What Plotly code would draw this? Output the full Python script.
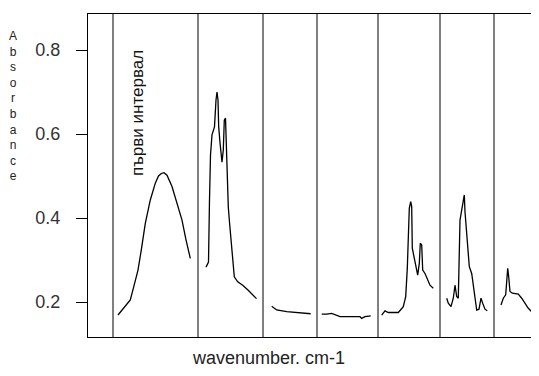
import plotly.graph_objects as go

# x: position along the (unlabelled) wavenumber axis, arbitrary units; y: absorbance
interval_bounds = [25, 110, 175, 229, 290, 352, 406]

seg1_x = [30, 33.5, 37.3, 42.3, 45.7, 50, 53.3, 57.3, 62.3, 67.3, 70.5, 73.3, 76, 79, 84, 89, 94, 98, 102.3]
seg1_y = [0.169, 0.180, 0.189, 0.205, 0.236, 0.276, 0.324, 0.387, 0.443, 0.483, 0.500, 0.506, 0.508, 0.502, 0.475, 0.435, 0.395, 0.348, 0.304]

seg2_x = [118, 120.5, 121.5, 122.5, 124, 126.5, 128, 129, 130, 130.7, 132, 134, 135.3, 136.3, 137.5,
          138.5, 140.3, 141.5, 143, 144, 146.3, 149.7, 154.7, 159.7, 164.7, 168.5]
seg2_y = [0.283, 0.295, 0.443, 0.550, 0.598, 0.617, 0.681, 0.700, 0.681, 0.617, 0.579, 0.533, 0.562, 0.633, 0.638,
          0.538, 0.426, 0.390, 0.348, 0.307, 0.260, 0.248, 0.240, 0.229, 0.217, 0.208]

seg3_x = [183.7, 188.7, 198.7, 212, 222.7]
seg3_y = [0.190, 0.181, 0.177, 0.175, 0.172]

seg4_x = [233.7, 238.7, 243.7, 248.7, 252, 272, 273.7, 277, 282.7]
seg4_y = [0.171, 0.171, 0.173, 0.169, 0.165, 0.165, 0.161, 0.165, 0.167]

seg5_x = [293.7, 297, 300.3, 310.3, 315.3, 317.7, 319.3, 321.3, 322.7, 323.7, 324.3, 327, 329.7, 331.3,
          332.3, 333.7, 334.7, 337, 339.7, 342, 345.3]
seg5_y = [0.169, 0.179, 0.175, 0.175, 0.189, 0.213, 0.280, 0.423, 0.439, 0.427, 0.328, 0.292, 0.264, 0.292,
          0.340, 0.336, 0.276, 0.268, 0.252, 0.240, 0.233]

seg6_x = [358.7, 360.3, 363, 365.3, 367, 368.7, 370.3, 371, 372, 373.7, 375.3, 376.3, 377, 378.7, 381.3,
          383.7, 386, 388.7, 391, 393, 394.7, 397, 399.3]
seg6_y = [0.209, 0.197, 0.189, 0.209, 0.240, 0.213, 0.209, 0.308, 0.395, 0.419, 0.447, 0.455, 0.415, 0.364, 0.284,
          0.268, 0.221, 0.181, 0.183, 0.209, 0.197, 0.183, 0.179]

seg7_x = [413, 415.3, 417.7, 418.7, 419.7, 420.7, 422, 424.3, 430.3, 433.7, 437, 440.3, 443.7, 447, 449.3]
seg7_y = [0.193, 0.209, 0.217, 0.252, 0.280, 0.260, 0.225, 0.221, 0.219, 0.209, 0.197, 0.185, 0.177, 0.173, 0.165]

y_ticks = [0.2, 0.4, 0.6, 0.8]
y_tick_labels = ["0.2", "0.4", "0.6", "0.8"]

segments = [(seg1_x, seg1_y), (seg2_x, seg2_y), (seg3_x, seg3_y), (seg4_x, seg4_y),
            (seg5_x, seg5_y), (seg6_x, seg6_y), (seg7_x, seg7_y)]

FONT = "Liberation Sans, Arial, sans-serif"

PLOT_W = 451
PLOT_H = 323

fig = go.Figure()
for sx, sy in segments:
    fig.add_trace(go.Scatter(x=sx, y=sy, mode="lines",
                             line=dict(color="#000000", width=1.3),
                             showlegend=False, hoverinfo="skip"))

for b in interval_bounds:
    fig.add_shape(type="line", xref="x", yref="paper", x0=b, x1=b, y0=0, y1=1,
                  line=dict(color="#000000", width=1))

# page body has an 8px default margin, so the figure is 8px smaller than the window
fig.update_layout(
    width=531, height=368,
    margin=dict(l=80, r=0, t=6, b=39),
    paper_bgcolor="white", plot_bgcolor="white",
    font=dict(family=FONT, color="#222222"),
    showlegend=False,
)
fig.update_xaxes(range=[0, 451], showgrid=False, zeroline=False, showticklabels=False,
                 ticks="", showline=True, linecolor="#000000", linewidth=1, mirror=True)
fig.update_yaxes(range=[0.1167, 0.8857], showgrid=False, zeroline=False,
                 tickvals=y_ticks, ticktext=y_tick_labels, ticks="outside", ticklen=11,
                 tickcolor="#000000", tickwidth=1, ticklabelstandoff=12,
                 tickfont=dict(size=18, family=FONT, color="#333333"),
                 showline=True, linecolor="#000000", linewidth=1, mirror=False)

# interval label
fig.add_annotation(text="първи интервал", xref="x", yref="paper", x=49, y=(337 - 113) / PLOT_H,
                   textangle=-90, showarrow=False, xanchor="center", yanchor="middle",
                   font=dict(size=17, family=FONT, color="#111111"))

# stacked y-axis title (one letter per line)
fig.add_annotation(text="<br>".join(list("Absorbance")), xref="paper", yref="paper",
                   x=(13 - 88) / PLOT_W, y=(337 - 106) / PLOT_H, showarrow=False,
                   xanchor="center", yanchor="middle", align="center",
                   font=dict(size=12, family=FONT, color="#222222"))

# x-axis title
fig.add_annotation(text="wavenumber. cm-1", xref="paper", yref="paper", x=(268 - 88) / PLOT_W,
                   y=-(358 - 337) / PLOT_H, showarrow=False, xanchor="center", yanchor="middle",
                   font=dict(size=18, family=FONT, color="#222222"))

fig.write_html("out.html")
